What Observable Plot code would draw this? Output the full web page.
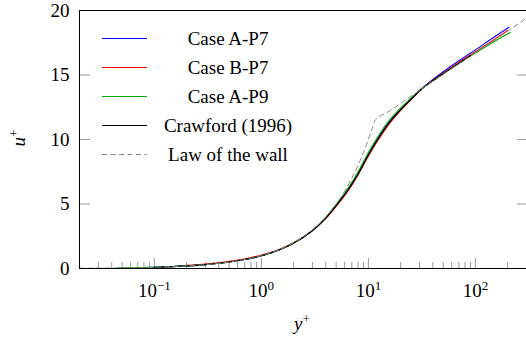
<!DOCTYPE html>
<html>
<head>
<meta charset="utf-8">
<script src="https://cdn.jsdelivr.net/npm/d3@7"></script>
<script src="https://cdn.jsdelivr.net/npm/@observablehq/plot@0.6"></script>
<style>
  html, body { margin: 0; padding: 0; background: #fff; }
</style>
</head>
<body>
<div id="chart"></div>
<script>
// ---- data ----
const xLimits = [0.02, 300];
const yLimits = [0, 20];
const xTicksMajor = [0.1, 1, 10, 100];
const xTicksMinor = [0.03,0.04,0.05,0.06,0.07,0.08,0.09,0.2,0.3,0.4,0.5,0.6,0.7,0.8,0.9,2,3,4,5,6,7,8,9,20,30,40,50,60,70,80,90,200];
const yTicks = [0, 5, 10, 15, 20];

const seriesNames = ["Case A-P7", "Case B-P7", "Case A-P9", "Crawford (1996)", "Law of the wall"];

const aP7_y = [0.07,0.1,0.2,0.3,0.5,0.7,1,1.5,2,3,4,5,6,7,8,10,12,15,20,25,30,40,50,70,100,150,206];
const aP7_u = [0.07,0.1,0.2,0.3,0.5,0.7,0.99,1.48,1.97,2.95,3.92,4.9,5.75,6.55,7.35,8.85,9.95,11.15,12.35,13.15,13.8,14.65,15.25,16.1,16.95,17.95,18.7];

const bP7_y = [0.2,0.3,0.5,0.7,1,1.5,2,3,4,5,6,7,8,10,12,15,20,25,30,40,50,70,100,150,200];
const bP7_u = [0.24,0.35,0.56,0.76,1.05,1.52,1.99,2.94,3.88,4.82,5.65,6.45,7.25,8.7,9.8,11.0,12.25,13.1,13.75,14.6,15.15,16.0,16.8,17.75,18.45];

const aP9_y = [0.046,0.07,0.1,0.2,0.3,0.5,0.7,1,1.5,2,3,4,5,6,7,8,10,12,15,20,25,30,40,50,70,100,150,211];
const aP9_u = [0.046,0.07,0.1,0.2,0.3,0.5,0.7,0.99,1.48,1.98,2.97,3.97,4.98,5.85,6.68,7.5,9.0,10.1,11.3,12.45,13.2,13.8,14.55,15.1,15.9,16.7,17.6,18.3];

const craw_y = [0.1,0.2,0.3,0.5,0.7,1,1.5,2,3,4,5,6,7,8,10,12,15,20,25,30,40,50,70,90];
const craw_u = [0.1,0.2,0.3,0.5,0.7,0.99,1.47,1.96,2.93,3.9,4.88,5.72,6.52,7.3,8.8,9.9,11.1,12.3,13.1,13.75,14.55,15.1,15.9,16.5];

const law_y = [0.02,0.05,0.1,0.2,0.5,1,2,3,4,5,6,7,8,9,10,11,11.6,15,20,30,50,70,100,150,200,300];
const law_u = [0.02,0.05,0.1,0.2,0.5,1,2,3,4,5,6,7,8,9,10,11,11.5,12.1,12.8,13.8,15.05,15.85,16.75,17.7,18.4,19.4];

const colors = ["#0000ff", "#ff0000", "#00aa00", "#000000", "#888888"];

// ---- build tables ----
const zip = (xs, us) => xs.map((x, i) => ({x, u: us[i]}));
const series = [
  zip(aP7_y, aP7_u), zip(bP7_y, bP7_u), zip(aP9_y, aP9_u), zip(craw_y, craw_u), zip(law_y, law_u)
];

const W = 526, H = 342, mL = 79, mR = 0, mT = 10, mB = 74;
const plotW = W - mL - mR, plotH = H - mT - mB;
const font = "'Liberation Serif', 'Times New Roman', serif";

const chart = Plot.plot({
  width: W, height: H,
  marginLeft: mL, marginRight: mR, marginTop: mT, marginBottom: mB,
  style: {fontFamily: font, fontSize: "19px", background: "#fff", color: "#000"},
  x: {type: "log", domain: xLimits, axis: null},
  y: {domain: yLimits, axis: null},
  marks: [
    // ticks
    Plot.tickX(xTicksMinor, {x: d => d, stroke: "#999", strokeWidth: 1, insetTop: plotH - 6}),
    Plot.tickX(xTicksMajor, {x: d => d, stroke: "#999", strokeWidth: 1, insetTop: plotH - 10}),
    Plot.tickY(yTicks, {y: d => d, stroke: "#999", strokeWidth: 1, insetRight: plotW - 11}),
    Plot.tickY(yTicks, {y: d => d, stroke: "#999", strokeWidth: 1, insetLeft: plotW - 9}),
    // tick labels
    Plot.axisX(xTicksMajor, {tickSize: 0, tickPadding: 15, fontSize: 19, label: null,
      tickFormat: d => "10^" + Math.round(Math.log10(d))}),
    Plot.axisY(yTicks, {tickSize: 0, tickPadding: 10, fontSize: 19, label: null}),
    // curves
    Plot.line(series[0], {x: "x", y: "u", stroke: colors[0], strokeWidth: 1.1, curve: "monotone-x"}),
    Plot.line(series[1], {x: "x", y: "u", stroke: colors[1], strokeWidth: 1.1, curve: "monotone-x"}),
    Plot.line(series[2], {x: "x", y: "u", stroke: colors[2], strokeWidth: 1.1, curve: "monotone-x"}),
    Plot.line(series[3], {x: "x", y: "u", stroke: colors[3], strokeWidth: 1.1, curve: "monotone-x"}),
    Plot.line(series[4], {x: "x", y: "u", stroke: colors[4], strokeWidth: 1, strokeDasharray: "5,3.5", curve: "monotone-x"}),
    // frame (top, bottom, left)
    Plot.ruleY(yLimits, {stroke: "#000", strokeWidth: 1}),
    Plot.ruleX([xLimits[0]], {stroke: "#000", strokeWidth: 1})
  ]
});

document.getElementById("chart").append(chart);
const svg = d3.select(chart);

// superscript exponents on x tick labels
svg.selectAll('g[aria-label="x-axis tick label"] text').each(function() {
  const t = this.textContent;
  const [b, e] = t.split("^");
  const s = d3.select(this);
  s.text(b);
  s.append("tspan").attr("dy", "-7").attr("font-size", "13").text(e.replace("-", "\u2212"));
});

// axis labels
const yl = svg.append("text")
  .attr("transform", "translate(25,138) rotate(-90)")
  .attr("text-anchor", "middle")
  .attr("font-family", font).attr("font-size", 19);
yl.append("tspan").attr("font-style", "italic").text("u");
yl.append("tspan").attr("dy", "-7").attr("font-size", 13).text("+");

const xl = svg.append("text")
  .attr("x", 302).attr("y", 330)
  .attr("text-anchor", "middle")
  .attr("font-family", font).attr("font-size", 19);
xl.append("tspan").attr("font-style", "italic").text("y");
xl.append("tspan").attr("dy", "-7").attr("font-size", 13).text("+");

// legend
const lg = svg.append("g").attr("font-family", font).attr("font-size", 19);
seriesNames.forEach((name, i) => {
  const y = 38.5 + i * 29;
  lg.append("line").attr("x1", 102).attr("x2", 147).attr("y1", y).attr("y2", y)
    .attr("stroke", colors[i]).attr("stroke-width", i === 4 ? 1 : 1.2)
    .attr("stroke-dasharray", i === 4 ? "5,3.5" : null);
  lg.append("text").attr("x", 228).attr("y", y + 6.5).attr("text-anchor", "middle").text(name);
});
</script>
</body>
</html>
